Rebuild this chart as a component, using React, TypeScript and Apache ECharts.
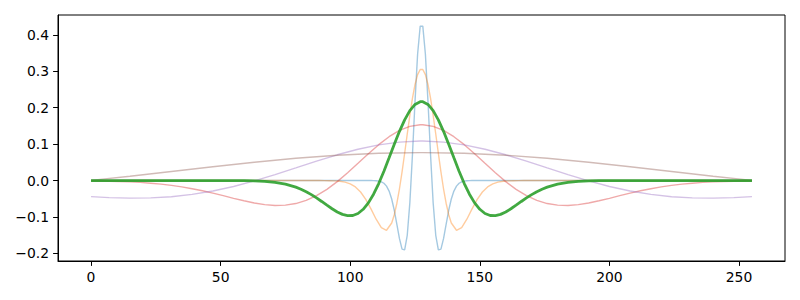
import React, { useEffect, useRef } from "react";
import * as echarts from "echarts";

// Ricker wavelets (widths 4, 8, 16, 32, 64, 128)
const blueX = [0, 108, 109, 110, 111, 112, 113, 114, 115, 116, 117, 118, 119, 120, 121, 122, 123, 124, 125, 126, 127,
  128, 129, 130, 131, 132, 133, 134, 135, 136, 137, 138, 139, 140, 141, 142, 143, 144, 145, 146, 147, 255];
const blueY = [0, 0.0, -0.0002, -0.0005, -0.0014, -0.0033, -0.0074, -0.0152, -0.0288, -0.0505, -0.0815, -0.1199, -0.1595, -0.1881, -0.19, -0.1501, -0.0612, 0.0693, 0.2174, 0.3474, 0.4236,
  0.4236, 0.3474, 0.2174, 0.0693, -0.0612, -0.1501, -0.19, -0.1881, -0.1595, -0.1199, -0.0815, -0.0505, -0.0288, -0.0152, -0.0074, -0.0033, -0.0014, -0.0005, -0.0002, 0.0, 0];

const orangeX = [0, 88, 90, 92, 94, 96, 98, 100, 102, 104, 106, 108, 110, 112, 114, 116, 117, 118, 119, 120, 121, 122, 123, 124, 125, 126, 127,
  128, 129, 130, 131, 132, 133, 134, 135, 136, 137, 138, 139, 141, 143, 145, 147, 149, 151, 153, 155, 157, 159, 161, 163, 165, 167, 255];
const orangeY = [0, 0.0, -0.0001, -0.0003, -0.0008, -0.0019, -0.0043, -0.009, -0.0175, -0.0313, -0.0516, -0.0777, -0.1061, -0.1293, -0.1364, -0.1164, -0.0937, -0.0622, -0.0225, 0.0239, 0.0749, 0.1277, 0.179, 0.2254, 0.2636, 0.2908, 0.3049,
  0.3049, 0.2908, 0.2636, 0.2254, 0.179, 0.1277, 0.0749, 0.0239, -0.0225, -0.0622, -0.0937, -0.1164, -0.1364, -0.1293, -0.1061, -0.0777, -0.0516, -0.0313, -0.0175, -0.009, -0.0043, -0.0019, -0.0008, -0.0003, -0.0001, 0.0, 0];

const greenX = [0, 51, 55, 59, 63, 67, 71, 75, 79, 81, 83, 85, 87, 89, 91, 93, 95, 97, 99, 101, 103, 105, 107, 109, 111, 113, 115, 117, 119, 121, 123, 125, 127,
  128, 130, 132, 134, 136, 138, 140, 142, 144, 146, 148, 150, 152, 154, 156, 158, 160, 162, 164, 166, 168, 170, 172, 174, 176, 180, 184, 188, 192, 196, 200, 204, 255];
const greenY = [0, 0.0, -0.0001, -0.0004, -0.001, -0.0023, -0.0049, -0.0097, -0.018, -0.0237, -0.0305, -0.0386, -0.0476, -0.0574, -0.0676, -0.0774, -0.0861, -0.0928, -0.0964, -0.0959, -0.0903, -0.0788, -0.0612, -0.0374, -0.0081, 0.0257, 0.0623, 0.0995, 0.1351, 0.1667, 0.1919, 0.2089, 0.2165,
  0.2165, 0.2089, 0.1919, 0.1667, 0.1351, 0.0995, 0.0623, 0.0257, -0.0081, -0.0374, -0.0612, -0.0788, -0.0903, -0.0959, -0.0964, -0.0928, -0.0861, -0.0774, -0.0676, -0.0574, -0.0476, -0.0386, -0.0305, -0.0237, -0.018, -0.0097, -0.0049, -0.0023, -0.001, -0.0004, -0.0001, 0.0, 0];

const redX = [0, 3, 7, 11, 15, 19, 23, 27, 31, 35, 39, 43, 47, 51, 55, 59, 63, 67, 71, 75, 79, 83, 87, 91, 95, 99, 103, 107, 111, 115, 119, 123, 127,
  128, 132, 136, 140, 144, 148, 152, 156, 160, 164, 168, 172, 176, 180, 184, 188, 192, 196, 200, 204, 208, 212, 216, 220, 224, 228, 232, 236, 240, 244, 248, 252, 255];
const redY = [-0.0008, -0.0011, -0.0017, -0.0025, -0.0036, -0.0051, -0.0072, -0.0098, -0.0132, -0.0173, -0.0223, -0.028, -0.0345, -0.0415, -0.0487, -0.0555, -0.0616, -0.0661, -0.0683, -0.0675, -0.0631, -0.0544, -0.0414, -0.0241, -0.0029, 0.0213, 0.0473, 0.0736, 0.0985, 0.1204, 0.1375, 0.1488, 0.1532,
  0.1532, 0.1488, 0.1375, 0.1204, 0.0985, 0.0736, 0.0473, 0.0213, -0.0029, -0.0241, -0.0414, -0.0544, -0.0631, -0.0675, -0.0683, -0.0661, -0.0616, -0.0555, -0.0487, -0.0415, -0.0345, -0.028, -0.0223, -0.0173, -0.0132, -0.0098, -0.0072, -0.0051, -0.0036, -0.0025, -0.0017, -0.0011, -0.0008];

const purpleX = [0, 7, 15, 23, 31, 39, 47, 55, 63, 71, 79, 87, 95, 103, 111, 119, 127,
  128, 136, 144, 152, 160, 168, 176, 184, 192, 200, 208, 216, 224, 232, 240, 248, 255];
const purpleY = [-0.0442, -0.0469, -0.0483, -0.0476, -0.0443, -0.038, -0.0286, -0.0162, -0.001, 0.0162, 0.0346, 0.0532, 0.0707, 0.086, 0.0979, 0.1056, 0.1084,
  0.1084, 0.1056, 0.0979, 0.086, 0.0707, 0.0532, 0.0346, 0.0162, -0.001, -0.0162, -0.0286, -0.038, -0.0443, -0.0476, -0.0483, -0.0469, -0.0442];

const brownX = [0, 15, 31, 47, 63, 79, 95, 111, 127, 128, 144, 160, 176, 192, 208, 224, 240, 255];
const brownY = [0.0004, 0.0119, 0.0249, 0.038, 0.0504, 0.0611, 0.0695, 0.0748, 0.0767, 0.0767, 0.0748, 0.0695, 0.0611, 0.0504, 0.038, 0.0249, 0.0119, 0.0004];

const xTicks = [0, 50, 100, 150, 200, 250];
const yTicks = [-0.2, -0.1, 0.0, 0.1, 0.2, 0.3, 0.4];

const pairs = (xs: number[], ys: number[]) => xs.map((x, i) => [x, ys[i]]);

export default function App() {
  const ref = useRef<HTMLDivElement>(null);
  useEffect(() => {
    if (!ref.current) return;
    const chart = echarts.init(ref.current, undefined, { renderer: "svg" });
    const font = { fontFamily: "DejaVu Sans", fontSize: 13.9, color: "#000" };
    const faint = (name: string, color: string, xs: number[], ys: number[], z: number) => ({
      name,
      type: "line",
      data: pairs(xs, ys),
      showSymbol: false,
      symbol: "none",
      z,
      lineStyle: { color, width: 1.4, opacity: 0.4 },
      itemStyle: { color },
    });
    chart.setOption({
      animation: false,
      grid: { left: 58, top: 15, right: 15, bottom: 39, show: true, borderColor: "#000", borderWidth: 1, backgroundColor: "transparent" },
      xAxis: {
        type: "value",
        min: -12.75,
        max: 267.75,
        splitLine: { show: false },
        axisLine: { show: true, onZero: false, lineStyle: { color: "#000", width: 1 } },
        axisTick: { show: true, length: 4.9, customValues: xTicks, lineStyle: { color: "#000", width: 1 } },
        axisLabel: { ...font, margin: 9, customValues: xTicks, formatter: (v: number) => String(v) },
      },
      yAxis: {
        type: "value",
        min: -0.2207,
        max: 0.4543,
        splitLine: { show: false },
        axisLine: { show: true, onZero: false, lineStyle: { color: "#000", width: 1 } },
        axisTick: { show: true, length: 4.9, customValues: yTicks, lineStyle: { color: "#000", width: 1 } },
        axisLabel: {
          ...font,
          margin: 9,
          customValues: yTicks,
          formatter: (v: number) => v.toFixed(1).replace("-", "\u2212"),
        },
      },
      series: [
        faint("w4", "#1f77b4", blueX, blueY, 2),
        faint("w8", "#ff7f0e", orangeX, orangeY, 3),
        faint("w32", "#d62728", redX, redY, 4),
        faint("w64", "#9467bd", purpleX, purpleY, 5),
        faint("w128", "#8c564b", brownX, brownY, 6),
        {
          name: "w16",
          type: "line",
          data: pairs(greenX, greenY),
          showSymbol: false,
          symbol: "none",
          z: 10,
          lineStyle: { color: "#2ca02c", width: 2.8, opacity: 0.9 },
          itemStyle: { color: "#2ca02c" },
        },
      ],
    });
    return () => chart.dispose();
  }, []);
  return <div ref={ref} style={{ position: "fixed", left: 0, top: 0, width: 800, height: 300, background: "#fff" }} />;
}
